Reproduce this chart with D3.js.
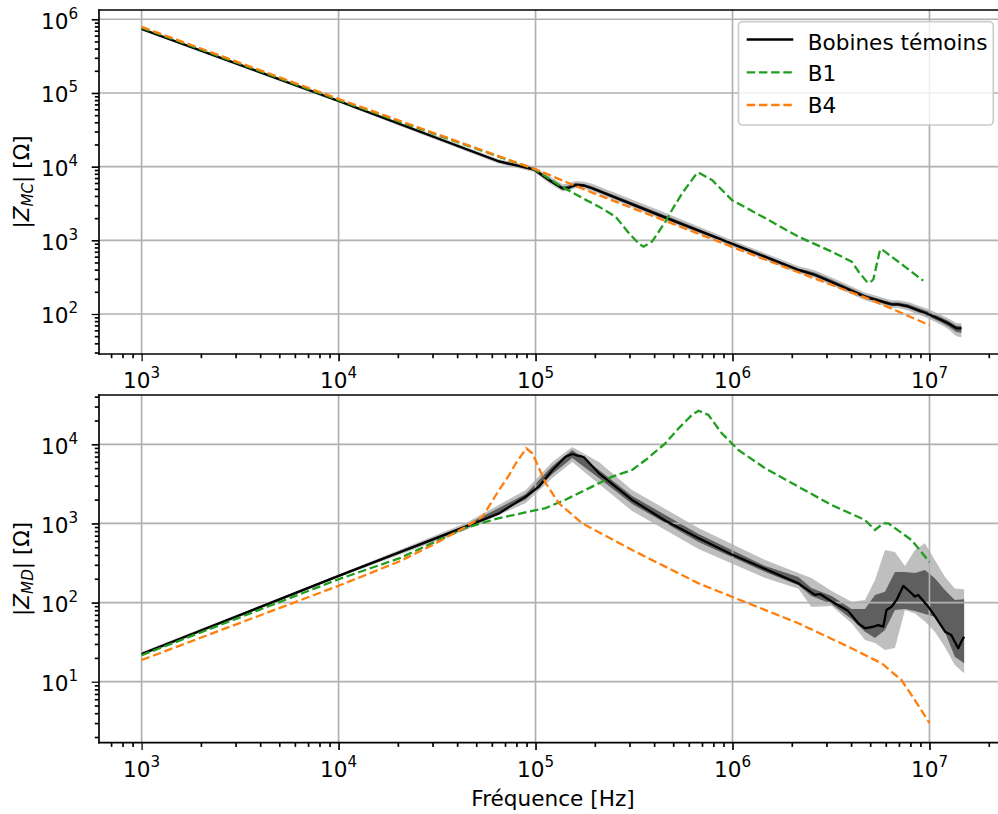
<!DOCTYPE html>
<html><head><meta charset="utf-8">
<script src="https://cdn.jsdelivr.net/npm/d3@7"></script>
<style>body{margin:0;background:#fff}svg{display:block}text{font-family:"DejaVu Sans",sans-serif;fill:#000}</style>
</head><body><svg id="c" width="998" height="814"></svg>
<script>
// ---------- data ----------
const xTickValues = [1e3, 1e4, 1e5, 1e6, 1e7];
const yTicksMC = [1e2, 1e3, 1e4, 1e5, 1e6];
const yTicksMD = [1e1, 1e2, 1e3, 1e4];
const legendLabels = ["Bobines témoins", "B1", "B4"];

// top panel |Z_MC|
const mcRefFreq = [1e3, 1e4, 6.53e4, 9.83e4, 1.17e5, 1.367e5, 1.461e5, 1.598e5, 1.761e5, 1.94e5, 4.18e5, 9.81e5, 2.162e6, 2.338e6, 2.628e6, 3.188e6, 4.707e6, 6.42e6, 6.94e6, 7.8e6, 9.85e6, 1.15e7, 1.243e7, 1.37e7, 1.453e7];
const mcRefZ    = [7.39e5, 7.78e4, 1.175e4, 9.15e3, 6.59e3, 5.085e3, 5.13e3, 5.64e3, 5.55e3, 5.085e3, 2.23e3, 911, 396, 372, 338, 272, 172, 135, 135, 126.5, 100, 83, 74.8, 64, 63.6];
const mcLightUp = [1.05, 1.05, 1.07, 1.10, 1.13, 1.13, 1.15, 1.13, 1.12, 1.15, 1.17, 1.12, 1.12, 1.14, 1.15, 1.15, 1.14, 1.14, 1.14, 1.15, 1.17, 1.17, 1.17, 1.18, 1.18];
const mcLightDn = [1.05, 1.05, 1.07, 1.08, 1.10, 1.10, 1.10, 1.10, 1.10, 1.10, 1.10, 1.10, 1.10, 1.10, 1.10, 1.12, 1.12, 1.12, 1.12, 1.13, 1.15, 1.17, 1.20, 1.28, 1.32];
const mcDarkUp  = [1.025, 1.025, 1.03, 1.04, 1.06, 1.06, 1.07, 1.06, 1.05, 1.06, 1.07, 1.05, 1.05, 1.06, 1.07, 1.07, 1.06, 1.06, 1.06, 1.07, 1.08, 1.08, 1.08, 1.08, 1.08];
const mcDarkDn  = [1.025, 1.025, 1.03, 1.04, 1.05, 1.05, 1.05, 1.05, 1.05, 1.05, 1.05, 1.05, 1.05, 1.05, 1.05, 1.05, 1.05, 1.05, 1.05, 1.06, 1.07, 1.08, 1.10, 1.12, 1.14];
const mcB1Freq = [1e3, 1e4, 9.8e4, 1.32e5, 1.8e5, 2.1e5, 2.55e5, 2.98e5, 3.33e5, 3.53e5, 3.9e5, 4.57e5, 4.93e5, 5.55e5, 6.49e5, 6.73e5, 7.87e5, 9.93e5, 1.47e6, 2.16e6, 3.19e6, 4.03e6, 4.37e6, 4.8e6, 4.99e6, 5.19e6, 5.61e6, 5.72e6, 5.94e6, 7.5e6, 9.3e6];
const mcB1Z    = [7.7e5, 8.0e4, 9.3e3, 5.6e3, 3.54e3, 2.86e3, 2.09e3, 1.25e3, 912, 820, 960, 1.79e3, 2.58e3, 4.35e3, 7.7e3, 8.28e3, 6.59e3, 3.52e3, 1.99e3, 1.12e3, 701, 513, 375, 275, 266, 296, 740, 755, 701, 439, 283];
const mcB4Freq = [1e3, 1e4, 1e5, 1.8e5, 4.2e5, 1.07e6, 2.34e6, 5.08e6, 9.5e6, 1e7];
const mcB4Z    = [7.9e5, 8.3e4, 9.2e3, 4.8e3, 2.0e3, 755, 339, 155, 75, 71];

// bottom panel |Z_MD|
const mdRefFreq = [1e3, 1e4, 2.04e4, 4.43e4, 6.53e4, 8.91e4, 1.04e5, 1.22e5, 1.42e5, 1.54e5, 1.62e5, 1.69e5, 1.76e5, 2.1e5, 3.09e5, 4.57e5, 6.73e5, 9.93e5, 1.47e6, 2.16e6, 2.62e6, 2.78e6, 3.19e6, 3.87e6, 4.35e6, 4.71e6, 5.19e6, 5.5e6, 5.83e6, 6.05e6, 6.42e6, 6.81e6, 7.36e6, 7.96e6, 8.44e6, 8.77e6, 9.86e6, 1.07e7, 1.2e7, 1.29e7, 1.4e7, 1.45e7, 1.5e7];
const mdRefZ    = [22.4, 217, 432, 910, 1340, 2180, 2910, 4730, 6970, 7540, 7250, 7110, 6850, 4300, 1980, 1080, 649, 405, 265, 175, 125, 128, 103, 78, 54.7, 47.3, 49.6, 52, 49.6, 80.5, 88.7, 108, 162, 137, 119, 125, 88.7, 66.3, 42.8, 38.9, 26.4, 32, 37];
const mdBandFreq = [1e3, 1e4, 4.43e4, 8.92e4, 1.217e5, 1.536e5, 2.098e5, 3.094e5, 6.72e5, 1.466e6, 2.161e6, 2.515e6, 3.188e6, 4.026e6, 4.707e6, 5.29e6, 5.945e6, 6.68e6, 7.507e6, 8.44e6, 9.48e6, 1.065e7, 1.197e7, 1.345e7, 1.5e7];
const mdLightHi = [23.7, 226, 1012, 2646, 5974, 9245, 5974, 2646, 876, 345, 236, 204, 140, 102.5, 107.6, 193, 461, 436, 290, 461, 561, 345, 212, 151, 147];
const mdLightLo = [21.1, 207, 826, 1813, 3751, 5974, 3150, 1436, 475, 204, 150, 87.9, 90.5, 54.7, 33.6, 30.8, 25.1, 26.6, 80.5, 73.0, 57.6, 42.9, 27.4, 16.3, 12.8];
const mdDarkHi  = [23.1, 223, 955, 2354, 5319, 8472, 4735, 2221, 735, 290, 210, 153, 121, 82.9, 82.9, 125, 137, 244, 243, 236, 258, 203, 144, 108, 110];
const mdDarkLo  = [21.8, 210, 863, 2007, 4214, 6713, 3751, 1760, 583, 243, 165, 121, 95.9, 62.0, 42.9, 35.6, 45.0, 80.5, 82.9, 78.2, 71.7, 66.3, 42.9, 20.7, 17.1];
const mdB1Freq = [1e3, 1e4, 2.03e4, 4.43e4, 6.53e4, 1.115e5, 1.411e5, 2.098e5, 2.45e5, 3.094e5, 3.62e5, 4.56e5, 5.33e5, 6.22e5, 6.72e5, 7.55e5, 8.82e5, 1.071e6, 1.466e6, 2.161e6, 3.188e6, 4.707e6, 5.29e6, 5.83e6, 6.18e6, 8.11e6, 1e7];
const mdB1Z    = [21.6, 197, 362, 880, 1170, 1553, 1978, 3215, 3900, 4733, 6330, 1.029e4, 1.593e4, 2.345e4, 2.658e4, 2.346e4, 1.377e4, 8.47e3, 4.97e3, 2.912e3, 1.709e3, 1.105e3, 826, 1004, 1004, 617, 325];
const mdB4Freq = [1e3, 1e4, 2.03e4, 3.0e4, 4.43e4, 5.38e4, 6.53e4, 7.34e4, 7.94e4, 8.98e4, 9.63e4, 1.127e5, 1.315e5, 1.726e5, 3.094e5, 6.72e5, 9.91e5, 2.161e6, 3.874e6, 5.71e6, 7.21e6, 8.43e6, 1e7];
const mdB4Z    = [18.8, 163, 330, 534, 909, 1216, 2646, 4090, 5753, 8903, 7697, 3215, 1796, 1004, 461, 175, 118.6, 54.7, 27.7, 17.1, 10.5, 5.87, 3.0];

// ---------- drawing ----------
const svg = d3.select("#c");
const FS = 21.6, SUP = 15.1;
const LW = 2.3, DASH = "8.5,3.7";
const GREEN = "#1f9e1f", ORANGE = "#ff7f0e";
const X0 = 99, X1 = 1005;
const x = d3.scaleLog().domain([10 ** 2.7837, 10 ** 7.3835]).range([X0, X1]);

function minorTicks(domain) {
  const out = [];
  const lo = Math.floor(Math.log10(domain[0])), hi = Math.ceil(Math.log10(domain[1]));
  for (let d = lo; d <= hi; d++) for (let k = 2; k <= 9; k++) {
    const v = k * 10 ** d;
    if (v >= domain[0] && v <= domain[1]) out.push(v);
  }
  return out;
}
const zip = (f, z) => f.map((v, i) => ({ f: v, z: z[i] }));

const panels = [
  { id: "mc", top: 10, bottom: 354, ydom: [10 ** 1.457, 10 ** 6.126], yt: yTicksMC, sub: "MC",
    ref: zip(mcRefFreq, mcRefZ),
    light: mcRefFreq.map((f, i) => ({ f, lo: mcRefZ[i] / mcLightDn[i], hi: mcRefZ[i] * mcLightUp[i] })),
    dark: mcRefFreq.map((f, i) => ({ f, lo: mcRefZ[i] / mcDarkDn[i], hi: mcRefZ[i] * mcDarkUp[i] })),
    b1: zip(mcB1Freq, mcB1Z), b4: zip(mcB4Freq, mcB4Z) },
  { id: "md", top: 395, bottom: 742.7, ydom: [10 ** 0.2292, 10 ** 4.623], yt: yTicksMD, sub: "MD",
    ref: zip(mdRefFreq, mdRefZ),
    light: mdBandFreq.map((f, i) => ({ f, lo: mdLightLo[i], hi: mdLightHi[i] })),
    dark: mdBandFreq.map((f, i) => ({ f, lo: mdDarkLo[i], hi: mdDarkHi[i] })),
    b1: zip(mdB1Freq, mdB1Z), b4: zip(mdB4Freq, mdB4Z) }
];

panels.forEach(p => {
  const y = d3.scaleLog().domain(p.ydom).range([p.bottom, p.top]);
  const g = svg.append("g");
  svg.append("clipPath").attr("id", "clip-" + p.id).append("rect")
    .attr("x", X0).attr("y", p.top).attr("width", X1 - X0).attr("height", p.bottom - p.top);
  const data = g.append("g").attr("clip-path", `url(#clip-${p.id})`);
  const area = d3.area().x(d => x(d.f)).y0(d => y(d.lo)).y1(d => y(d.hi));
  data.append("path").datum(p.light).attr("d", area).attr("fill", "#000").attr("fill-opacity", 0.25);
  data.append("path").datum(p.dark).attr("d", area).attr("fill", "#000").attr("fill-opacity", 0.5);

  // grid
  const grid = data.append("g").attr("stroke", "#b0b0b0").attr("stroke-width", 1.67);
  xTickValues.forEach(v => grid.append("line").attr("x1", x(v)).attr("x2", x(v)).attr("y1", p.top).attr("y2", p.bottom));
  p.yt.forEach(v => grid.append("line").attr("x1", X0).attr("x2", X1).attr("y1", y(v)).attr("y2", y(v)));

  const line = d3.line().x(d => x(d.f)).y(d => y(d.z));
  data.append("path").datum(p.ref).attr("d", line).attr("fill", "none").attr("stroke", "#000").attr("stroke-width", LW).attr("stroke-linejoin", "round");
  data.append("path").datum(p.b1).attr("d", line).attr("fill", "none").attr("stroke", GREEN).attr("stroke-width", LW).attr("stroke-dasharray", DASH);
  data.append("path").datum(p.b4).attr("d", line).attr("fill", "none").attr("stroke", ORANGE).attr("stroke-width", LW).attr("stroke-dasharray", DASH);

  // axes ticks
  const xa = g.append("g").attr("transform", `translate(0,${p.bottom})`);
  xa.call(d3.axisBottom(x).tickValues(xTickValues).tickSize(7.3).tickSizeOuter(0).tickFormat(""));
  xa.append("g").call(d3.axisBottom(x).tickValues(minorTicks(x.domain())).tickSize(4.2).tickSizeOuter(0).tickFormat(""));
  const ya = g.append("g").attr("transform", `translate(${X0},0)`);
  ya.call(d3.axisLeft(y).tickValues(p.yt).tickSize(7.3).tickSizeOuter(0).tickFormat(""));
  ya.append("g").call(d3.axisLeft(y).tickValues(minorTicks(p.ydom)).tickSize(4.2).tickSizeOuter(0).tickFormat(""));
  g.selectAll(".domain").remove();
  xa.selectAll(".tick line").attr("stroke", "#000").attr("stroke-width", 1.67);
  ya.selectAll(".tick line").attr("stroke", "#000").attr("stroke-width", 1.67);
  xa.select("g").selectAll(".tick line").attr("stroke-width", 1.25);
  ya.select("g").selectAll(".tick line").attr("stroke-width", 1.25);

  // tick labels
  xTickValues.forEach(v => {
    const t = g.append("text").attr("x", x(v)).attr("y", p.bottom + 34).attr("text-anchor", "middle").attr("font-size", FS);
    t.append("tspan").text("10");
    t.append("tspan").attr("font-size", SUP).attr("dy", -10).text(Math.round(Math.log10(v)));
  });
  p.yt.forEach(v => {
    const t = g.append("text").attr("x", 78).attr("y", y(v) + 9.5).attr("text-anchor", "end").attr("font-size", FS);
    t.append("tspan").text("10");
    t.append("tspan").attr("font-size", SUP).attr("dy", -10).text(Math.round(Math.log10(v)));
  });

  // y label
  const yl = g.append("text").attr("transform", `translate(29,${(p.top + p.bottom) / 2}) rotate(-90)`)
    .attr("text-anchor", "middle").attr("font-size", FS);
  yl.append("tspan").text("|");
  yl.append("tspan").attr("font-style", "italic").text("Z");
  yl.append("tspan").attr("font-style", "italic").attr("font-size", SUP).attr("dy", 4).text(p.sub);
  yl.append("tspan").attr("dy", -4).text("| [Ω]");

  // spines
  const sp = g.append("g").attr("stroke", "#000").attr("stroke-width", 1.67).attr("stroke-linecap", "square");
  sp.append("line").attr("x1", X0).attr("x2", X0).attr("y1", p.top).attr("y2", p.bottom);
  sp.append("line").attr("x1", X1).attr("x2", X1).attr("y1", p.top).attr("y2", p.bottom);
  sp.append("line").attr("x1", X0).attr("x2", X1).attr("y1", p.top).attr("y2", p.top);
  sp.append("line").attr("x1", X0).attr("x2", X1).attr("y1", p.bottom).attr("y2", p.bottom);
});

// x label
svg.append("text").attr("x", 553).attr("y", 806).attr("text-anchor", "middle").attr("font-size", FS).text("Fréquence [Hz]");

// legend
const lg = svg.append("g");
lg.append("rect").attr("x", 738.5).attr("y", 21.7).attr("width", 254.8).attr("height", 103.3).attr("rx", 4)
  .attr("fill", "#fff").attr("fill-opacity", 0.8).attr("stroke", "#cccccc").attr("stroke-width", 1.67);
const legendStyles = [
  { color: "#000", dash: null, ly: 39.5, ty: 50 },
  { color: GREEN, dash: DASH, ly: 72.3, ty: 80.5 },
  { color: ORANGE, dash: DASH, ly: 105, ty: 113 }
];
legendLabels.forEach((lab, i) => {
  const s = legendStyles[i];
  const l = lg.append("line").attr("x1", 746.7).attr("x2", 793.3).attr("y1", s.ly).attr("y2", s.ly)
    .attr("stroke", s.color).attr("stroke-width", LW);
  if (s.dash) l.attr("stroke-dasharray", s.dash);
  lg.append("text").attr("x", 807.7).attr("y", s.ty).attr("font-size", FS).text(lab);
});
</script></body></html>
